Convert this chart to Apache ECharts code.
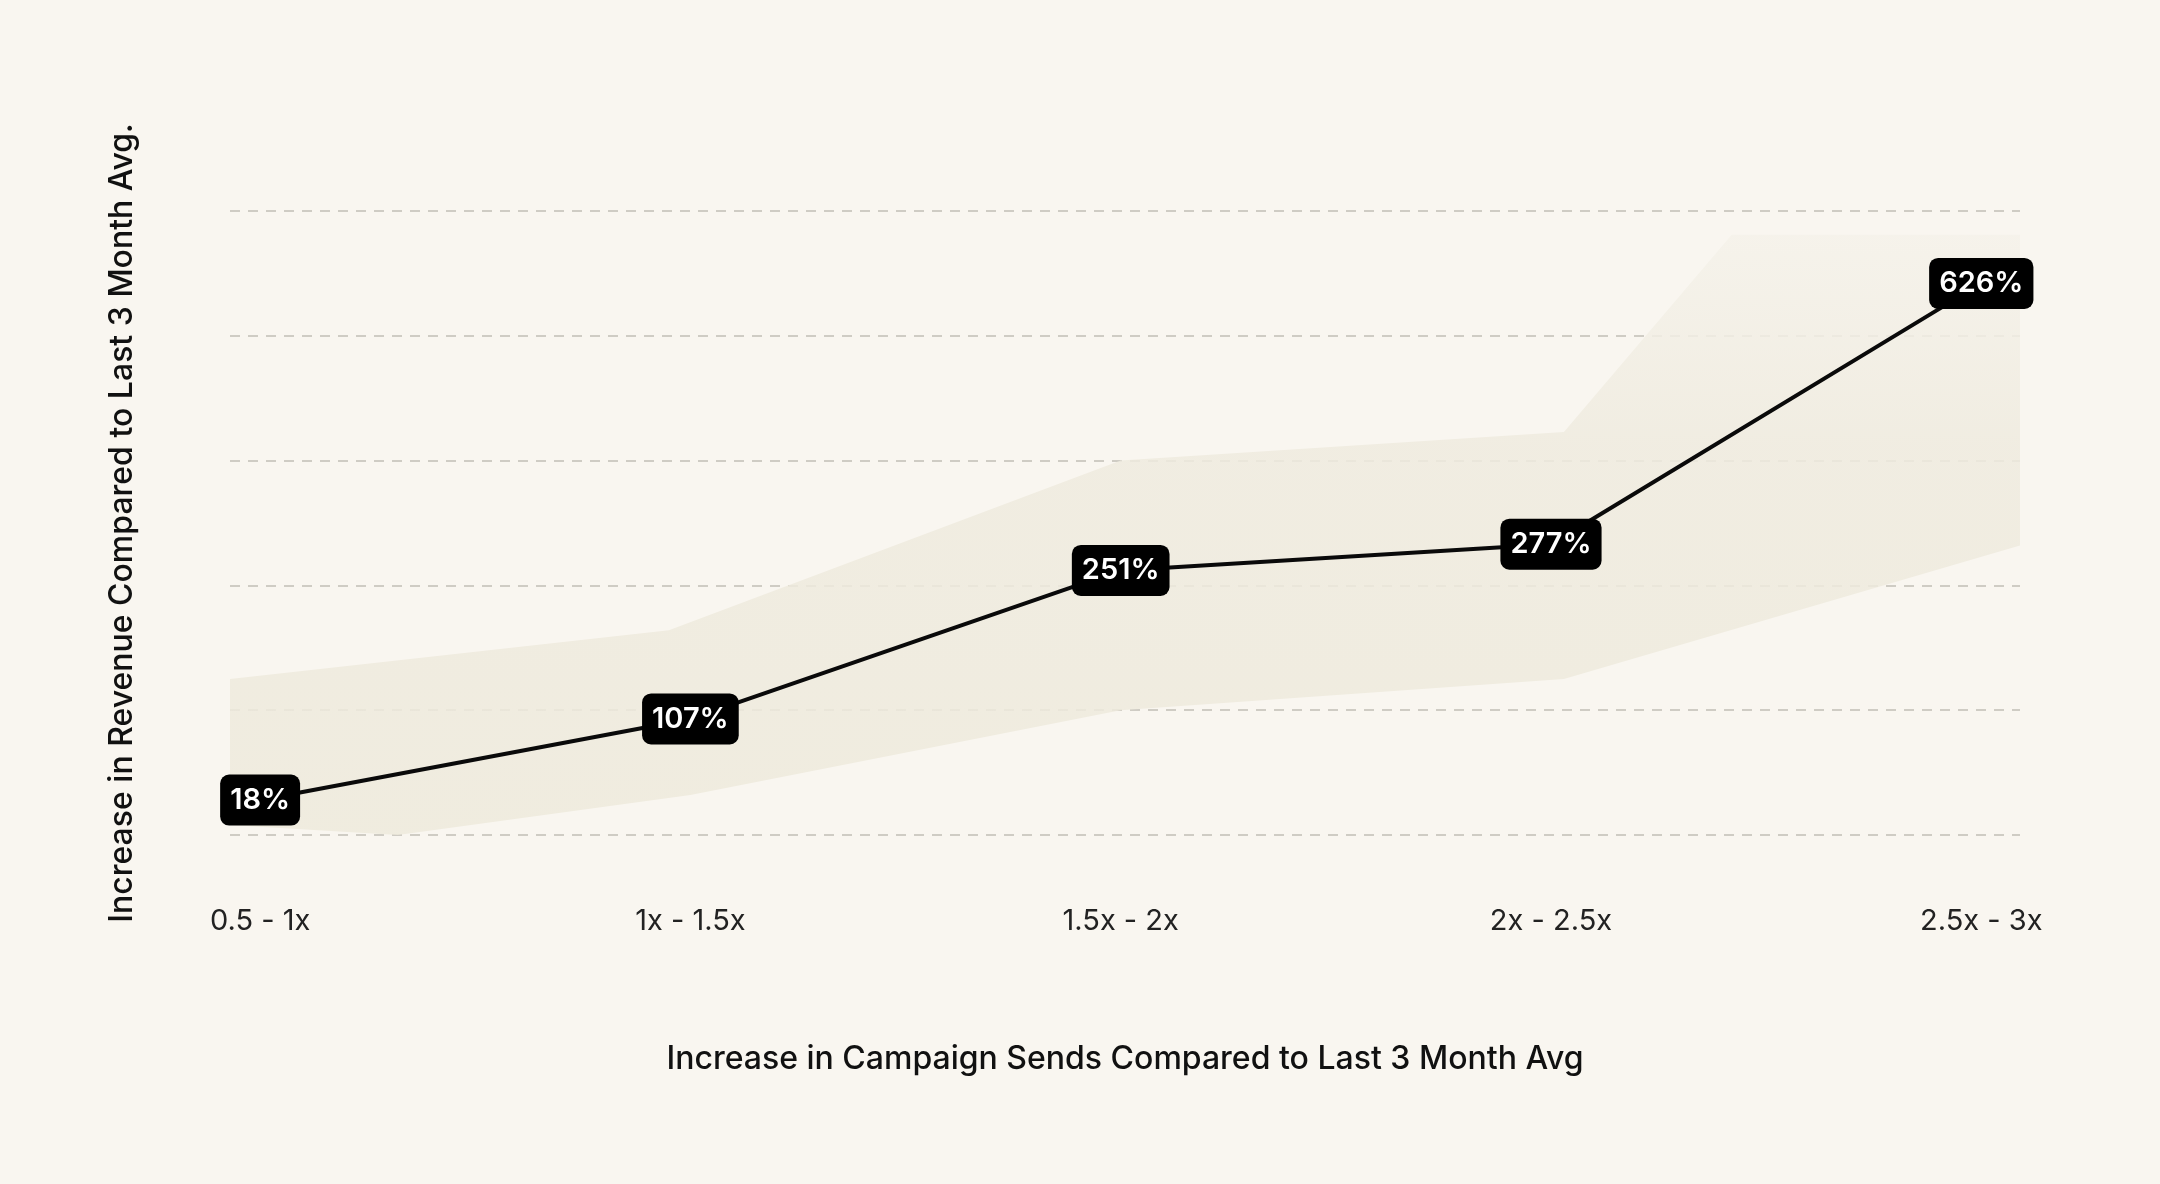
<!DOCTYPE html>
<html><head><meta charset="utf-8">
<script src="https://cdn.jsdelivr.net/npm/echarts@6/dist/echarts.min.js"></script>
<style>html,body{margin:0;background:#f9f6f0}#c{width:2160px;height:1184px}</style>
</head><body><div id="c"></div>
<script>
// categories and labelled values
var categories = ['0.5 - 1x', '1x - 1.5x', '1.5x - 2x', '2x - 2.5x', '2.5x - 3x'];
var labels = ['18%', '107%', '251%', '277%', '626%'];
// vertical position of each point on the (unlabelled) axis
var heights = [28, 93, 212, 233, 442];
// shaded band outline
var upperX = [-0.07, 0.95, 2, 3.03, 3.42, 4.09];
var upperY = [125, 164, 300, 323, 481, 481];
var lowerX = [-0.07, 0.32, 1, 2, 3.03, 4.09];
var lowerY = [8, 0, 32, 100, 125, 232];

var chart = echarts.init(document.getElementById('c'));
var font = 'Inter, "Open Sans", sans-serif';

var band = [];
for (var i = 0; i < upperX.length; i++) band.push([upperX[i], upperY[i]]);
for (var j = lowerX.length - 1; j >= 0; j--) band.push([lowerX[j], lowerY[j]]);

var option = {
  backgroundColor: '#f9f6f0',
  grid: { left: 230, right: 140, top: 211, bottom: 349 },
  xAxis: {
    type: 'value', min: -0.07, max: 4.09,
    name: 'Increase in Campaign Sends Compared to Last 3 Month Avg',
    nameLocation: 'middle', nameGap: 208,
    nameTextStyle: { fontFamily: font, fontSize: 32, color: '#111', fontWeight: 500 },
    axisLine: { show: false }, axisTick: { show: false }, splitLine: { show: false },
    axisLabel: {
      customValues: [0, 1, 2, 3, 4], margin: 72,
      fontFamily: font, fontSize: 29, color: '#222',
      formatter: function (v) { return categories[Math.round(v)]; }
    }
  },
  yAxis: {
    type: 'value', min: 0, max: 500, interval: 100,
    name: 'Increase in Revenue Compared to Last 3 Month Avg.',
    nameLocation: 'middle', nameGap: 92, nameRotate: 90,
    nameTextStyle: { fontFamily: font, fontSize: 32, color: '#111', fontWeight: 500 },
    axisLine: { show: false }, axisTick: { show: false }, axisLabel: { show: false },
    splitLine: { lineStyle: { color: '#cfccc4', type: [10, 8], width: 2 } }
  },
  series: [{
    type: 'custom',
    silent: true,
    data: [0],
    renderItem: function (params, api) {
      var pts = band.map(function (p) { return api.coord(p); });
      return {
        type: 'polygon',
        shape: { points: pts },
        style: {
          opacity: 0.85,
          fill: new echarts.graphic.LinearGradient(0, 0, 0, 1, [
            { offset: 0, color: '#f5f2ea' },
            { offset: 0.35, color: '#efebdf' },
            { offset: 1, color: '#eeeadc' }
          ])
        }
      };
    },
    z: 1
  }, {
    type: 'line',
    data: heights.map(function (h, k) { return [k, h]; }),
    symbol: 'circle', symbolSize: 2, showSymbol: true,
    itemStyle: { color: '#0a0a0a' },
    lineStyle: { color: '#0a0a0a', width: 4 },
    z: 3,
    label: {
      show: true, position: 'inside',
      formatter: function (p) { return labels[p.dataIndex]; },
      backgroundColor: '#000', borderRadius: 9,
      padding: [12, 10, 10, 10],
      color: '#fff', fontFamily: font, fontSize: 29, fontWeight: 600
    }
  }]
};
chart.setOption(option);
</script>
</body></html>
